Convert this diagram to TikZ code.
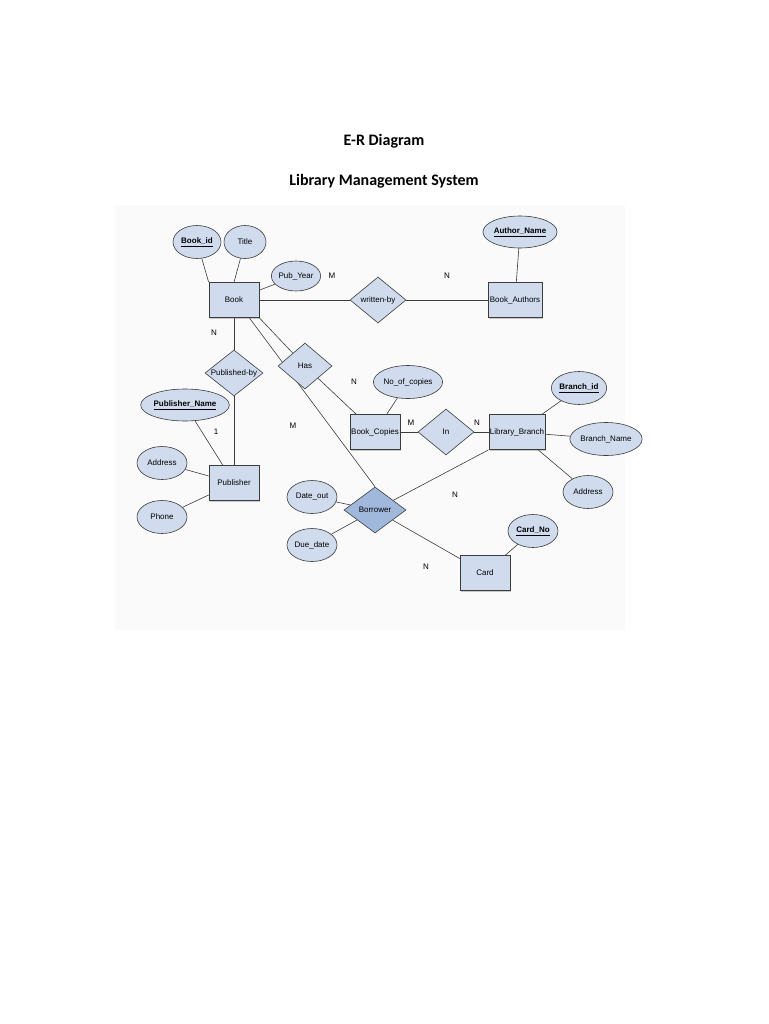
\documentclass[tikz,border=0pt]{standalone}
\usepackage{fontspec}
\setmainfont{Liberation Sans}
\newfontfamily\titlefont{Carlito}
\usetikzlibrary{shapes.geometric,shadows,backgrounds}
\definecolor{erfill}{RGB}{208,220,238}
\definecolor{erdark}{RGB}{160,184,220}
\definecolor{erline}{RGB}{60,60,60}
\tikzset{
  ent/.style={draw=erline,line width=0.7pt,fill=erfill,minimum width=50pt,minimum height=35pt,inner sep=1pt,font=\fontsize{8}{9}\selectfont,drop shadow={shadow xshift=1pt,shadow yshift=-1pt,opacity=0.4}},
  att/.style={ellipse,draw=erline,line width=0.6pt,fill=erfill,minimum width=48pt,minimum height=33pt,inner sep=0pt,font=\fontsize{8}{9}\selectfont},
  rel/.style={diamond,draw=erline,line width=0.6pt,fill=erfill,aspect=1.2,minimum width=56pt,minimum height=46pt,inner sep=0pt,font=\fontsize{8}{9}\selectfont},
  card/.style={font=\fontsize{8}{9}\selectfont},
  ln/.style={draw=erline,line width=0.6pt},
}
\begin{document}
\begin{tikzpicture}[x=1pt,y=-1pt]
\useasboundingbox (0,0) rectangle (768,1024);
\node[font=\titlefont\bfseries\fontsize{16}{18}\selectfont] (t1) at (384,141) {E-R Diagram};
\node[font=\titlefont\bfseries\fontsize{16}{18}\selectfont] (t2) at (384,181) {Library Management System};
% entities
\node[ent] (book) at (234,300) {Book};
\node[ent,minimum width=54pt] (bauth) at (515,300) {Book\_Authors};
\node[ent] (pub) at (234,483) {Publisher};
\node[ent] (bcop) at (375,432) {Book\_Copies};
\node[ent,minimum width=56pt] (lib) at (517,432) {Library\_Branch};
\node[ent] (cardn) at (485,573) {Card};
% relations
\node[rel] (wb) at (378,300) {written-by};
\node[rel,minimum width=58pt] (pb) at (234,373) {Published-by};
\node[rel,minimum width=54pt] (has) at (305,366) {Has};
\node[rel] (in) at (446,432) {In};
\node[rel,fill=erdark,minimum width=62pt] (bor) at (375,510) {Borrower};
% attributes
\node[att] (bid) at (197,242) {\bfseries\underline{Book\_id}};
\node[att,minimum width=42pt] (title) at (245,242) {Title};
\node[att,minimum height=30pt] (py) at (296,276) {Pub\_Year};
\node[att,minimum width=58pt,minimum height=32pt] (an) at (520,232) {\bfseries\underline{Author\_Name}};
\node[att,minimum width=72pt,minimum height=32pt] (pn) at (185,405) {\bfseries\underline{Publisher\_Name}};
\node[att,minimum width=50pt] (addr1) at (162,463) {Address};
\node[att,minimum width=50pt] (phone) at (162,517) {Phone};
\node[att,minimum width=56pt] (noc) at (408,382) {No\_of\_copies};
\node[att,minimum width=52pt] (brid) at (579,388) {\bfseries\underline{Branch\_id}};
\node[att,minimum width=58pt] (brn) at (606,439) {Branch\_Name};
\node[att,minimum width=50pt] (addr2) at (588,492) {Address};
\node[att,minimum width=50pt] (dout) at (312,497) {Date\_out};
\node[att,minimum width=50pt] (ddate) at (312,545) {Due\_date};
\node[att,minimum width=50pt] (cno) at (533,531) {\bfseries\underline{Card\_No}};
\begin{scope}[on background layer]
\fill[black!2] (115,205) rectangle (625,630);
\draw[ln] (bid) -- (book.north west);
\draw[ln] (title) -- (book.north);
\draw[ln] (py) -- (book);
\draw[ln] (book) -- (wb) -- (bauth);
\draw[ln] (an) -- (bauth);
\draw[ln] (book) -- (pb) -- (pub);
\draw[ln] (pn) -- (pub);
\draw[ln] (addr1) -- (pub);
\draw[ln] (phone) -- (pub);
\draw[ln] (book.south east) -- (has) -- (bcop);
\draw[ln] (noc) -- (bcop);
\draw[ln] (bcop) -- (in) -- (lib);
\draw[ln] (brid) -- (lib);
\draw[ln] (brn) -- (lib);
\draw[ln] (addr2) -- (lib);
\draw[ln] ([xshift=-10pt]book.south east) -- (bor.north);
\draw[ln] (lib.south west) -- (bor);
\draw[ln] (bor) -- (cardn);
\draw[ln] (dout) -- (bor);
\draw[ln] (ddate) -- (bor);
\draw[ln] (cno) -- (cardn);
\end{scope}
% cardinalities
\node[card] (c1) at (332,276) {M};
\node[card] (c2) at (447,276) {N};
\node[card] (c3) at (214,333) {N};
\node[card] (c4) at (216,432) {1};
\node[card] (c5) at (354,382) {N};
\node[card] (c6) at (293,426) {M};
\node[card] (c7) at (411,423) {M};
\node[card] (c8) at (477,423) {N};
\node[card] (c9) at (455,495) {N};
\node[card] (c10) at (426,567) {N};
\end{tikzpicture}
\end{document}
